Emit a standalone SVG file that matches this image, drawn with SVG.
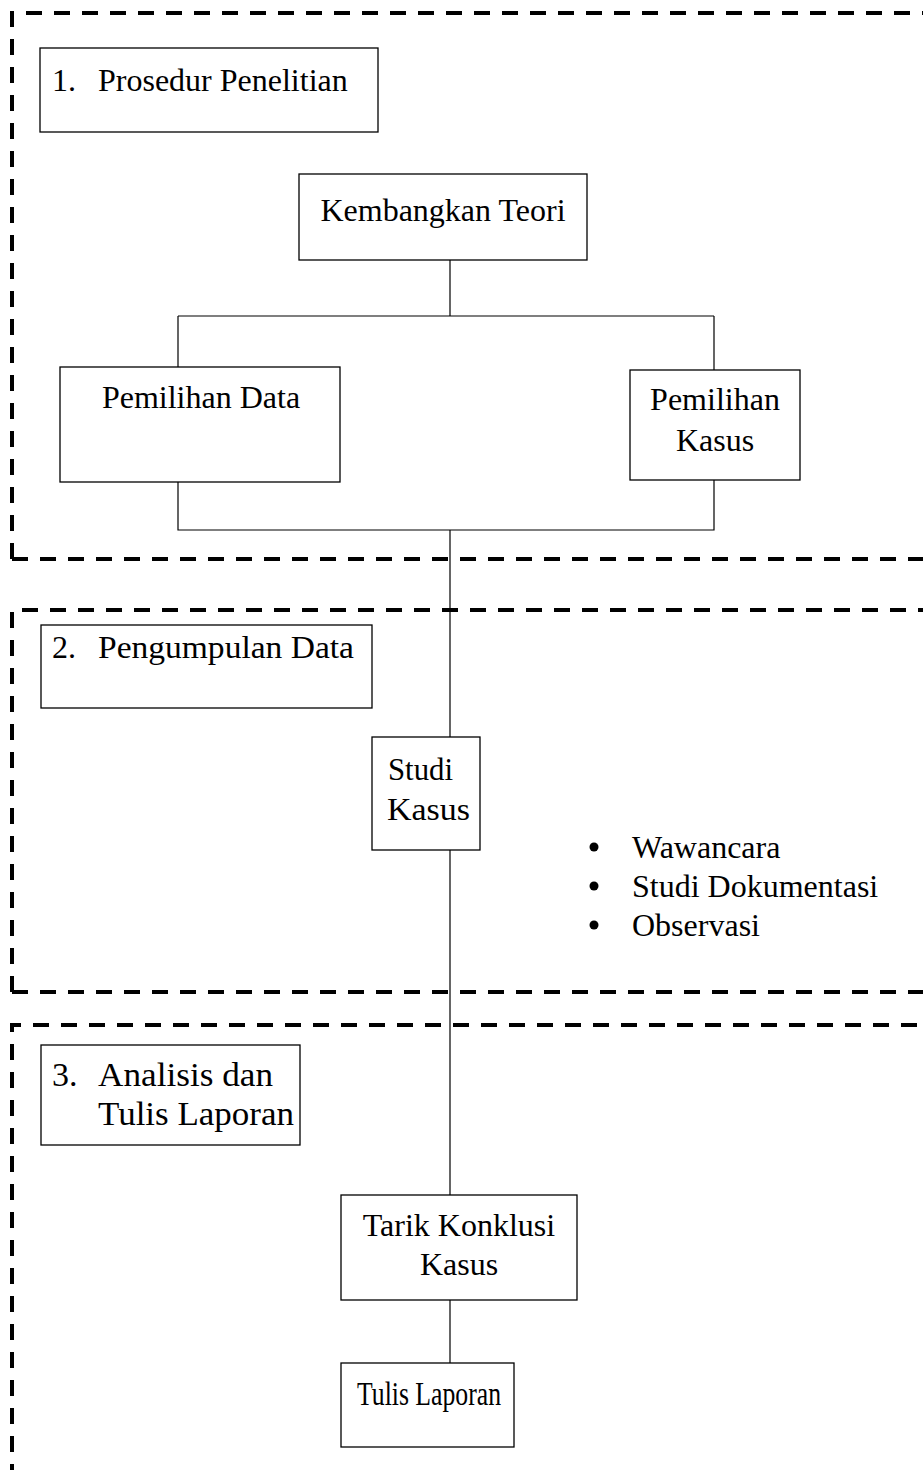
<svg xmlns="http://www.w3.org/2000/svg" width="923" height="1470" viewBox="0 0 923 1470">
<style>
.frame{fill:none;stroke:#000;stroke-width:4;stroke-dasharray:16 12}
.box{fill:#fff;stroke:#000;stroke-width:1.3}
.ln{fill:none;stroke:#000;stroke-width:1.2}
text{font-family:"Liberation Serif","Times New Roman",serif;font-size:32px;fill:#000}
.c{text-anchor:middle}
</style>
<rect width="923" height="1470" fill="#fff"/>
<g id="frames">
<path class="frame" d="M12,559 V13 H940"/>
<path class="frame" d="M12,559 H940"/>
<path class="frame" d="M12,992 V610 H940"/>
<path class="frame" d="M12,992 H940"/>
<path class="frame" d="M12,1480 V1025 H940"/>
</g>
<g id="connectors">
<path class="ln" d="M450,260 V316 M178,316 H714 M178,316 V367 M714,316 V370"/>
<path class="ln" d="M178,482 V530 H714 V480 M450,530 V737"/>
<path class="ln" d="M450,850 V1195 M450,1300 V1363"/>
</g>
<g id="n1"><rect class="box" x="40" y="48" width="338" height="84"/><text x="52" y="91">1.</text><text x="98" y="91">Prosedur Penelitian</text></g>
<g id="n2"><rect class="box" x="299" y="174" width="288" height="86"/><text class="c" x="443" y="221">Kembangkan Teori</text></g>
<g id="n3"><rect class="box" x="60" y="367" width="280" height="115"/><text class="c" x="201" y="408">Pemilihan Data</text></g>
<g id="n4"><rect class="box" x="630" y="370" width="170" height="110"/><text class="c" x="715" y="410">Pemilihan</text><text class="c" x="715" y="451">Kasus</text></g>
<g id="n5"><rect class="box" x="41" y="625" width="331" height="83"/><text x="52" y="658">2.</text><text x="98" y="658" textLength="256" lengthAdjust="spacingAndGlyphs">Pengumpulan Data</text></g>
<g id="n6"><rect class="box" x="372" y="737" width="108" height="113"/><text x="388" y="780" textLength="65" lengthAdjust="spacingAndGlyphs">Studi</text><text x="387" y="820" textLength="83" lengthAdjust="spacingAndGlyphs">Kasus</text></g>
<g id="n7">
<circle cx="594" cy="847" r="4.5"/><text x="632" y="858">Wawancara</text>
<circle cx="594" cy="886" r="4.5"/><text x="632" y="897">Studi Dokumentasi</text>
<circle cx="594" cy="925" r="4.5"/><text x="632" y="936">Observasi</text>
</g>
<g id="n8"><rect class="box" x="41" y="1045" width="259" height="100"/><text x="52" y="1086" style="font-size:34px">3.</text><text x="98" y="1086" style="font-size:34px" textLength="175" lengthAdjust="spacingAndGlyphs">Analisis dan</text><text x="98" y="1125" style="font-size:34px" textLength="196" lengthAdjust="spacingAndGlyphs">Tulis Laporan</text></g>
<g id="n9"><rect class="box" x="341" y="1195" width="236" height="105"/><text class="c" x="459" y="1236">Tarik Konklusi</text><text class="c" x="459" y="1275">Kasus</text></g>
<g id="n10"><rect class="box" x="341" y="1363" width="173" height="84"/><text x="357" y="1405" style="font-size:34px" textLength="144" lengthAdjust="spacingAndGlyphs">Tulis Laporan</text></g>
</svg>
